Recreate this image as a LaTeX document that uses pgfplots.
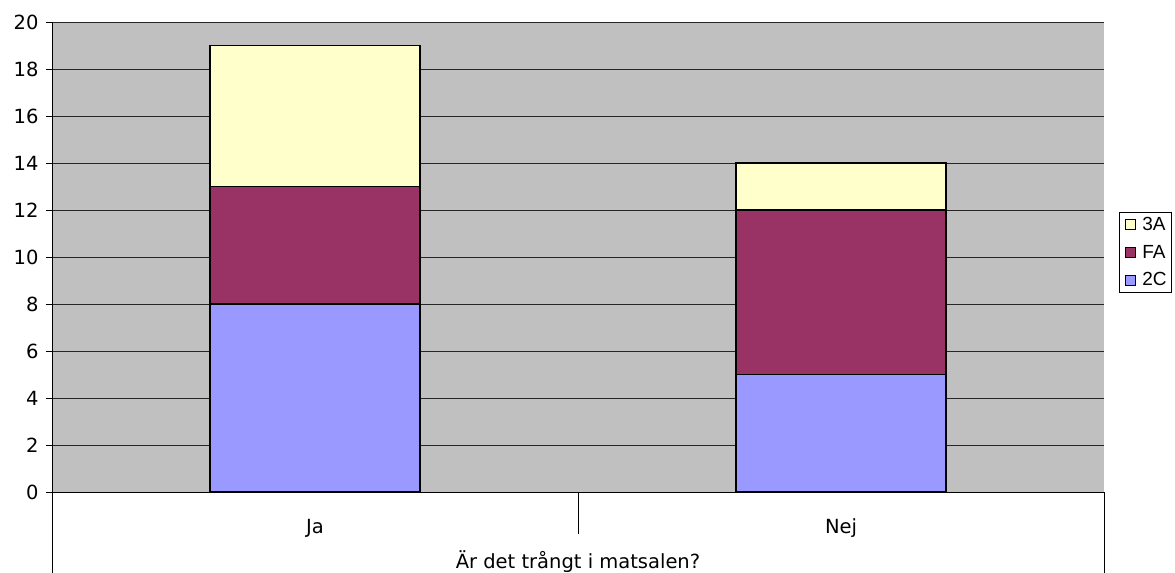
\documentclass[border=0pt]{standalone}
\usepackage{pgfplots}
\pgfplotsset{compat=1.18}
\usepackage{fontspec}
\setmainfont{DejaVu Sans}
\newfontfamily\legfont{Liberation Sans}
\definecolor{bgc}{HTML}{C0C0C0}
\definecolor{cC}{HTML}{9999FF}
\definecolor{cF}{HTML}{993366}
\definecolor{cA}{HTML}{FFFFCC}
\begin{document}
\begin{tikzpicture}
\path[use as bounding box] (-52bp,-81bp) rectangle (1123bp,492bp);
\begin{axis}[
  at={(0,0)}, anchor=south west,
  scale only axis, width=1052bp, height=470bp,
  xmin=0, xmax=2, ymin=0, ymax=20,
  ybar stacked, bar width=210bp,
  axis background/.style={fill=bgc},
  axis x line*=bottom, axis y line*=left,
  axis line style={-, black, line width=0.8bp},
  ytick={0,2,...,20},
  ymajorgrids, grid style={black!85, line width=0.9bp},
  tick align=outside, ytick pos=left,
  major tick length=6bp,
  tick style={black, line width=0.8bp},
  yticklabel style={xshift=-4bp},
  xtick={0.5,1.5}, xticklabels={Ja,Nej},
  xtick style={draw=none},
  xticklabel style={anchor=center, yshift=-30bp},
  xlabel={Är det trångt i matsalen?},
  xlabel style={at={(axis description cs:0.5,0)}, anchor=center, yshift=-70bp},
  /pgf/number format/assume math mode=true,
  tick label style={font=\fontsize{19.5bp}{23bp}\selectfont},
  label style={font=\fontsize{19.5bp}{23bp}\selectfont},
  clip=false,
  reverse legend,
  legend style={at={(axis description cs:1.01426,0.5957)}, anchor=north west,
    draw=black, line width=0.8bp, font=\legfont\fontsize{19bp}{22bp}\selectfont,
    nodes={font=\legfont\fontsize{19bp}{22bp}\selectfont, inner xsep=3bp},
    row sep=9bp, inner xsep=2bp, inner ysep=3bp, cells={anchor=west}},
  legend image code/.code={\path[draw=none,fill=none] (0bp,0bp) -- (18bp,0bp);\draw[#1,draw=black,line width=0.8bp] (4bp,-5bp) rectangle (14bp,5bp);},
]
\addplot[fill=cC, draw=black, line width=1.2bp] coordinates {(0.5,8) (1.5,5)};
\addplot[fill=cF, draw=black, line width=1.2bp] coordinates {(0.5,5) (1.5,7)};
\addplot[fill=cA, draw=black, line width=1.2bp] coordinates {(0.5,6) (1.5,2)};
\legend{2C,FA,3A}
\draw[black, line width=0.8bp] (axis cs:0,0) -- ++(0,-81bp);
\draw[black, line width=0.8bp] (axis cs:1,0) -- ++(0,-42bp);
\draw[black, line width=0.8bp] (axis cs:2,0) -- ++(0,-81bp);
\end{axis}
\end{tikzpicture}
\end{document}
